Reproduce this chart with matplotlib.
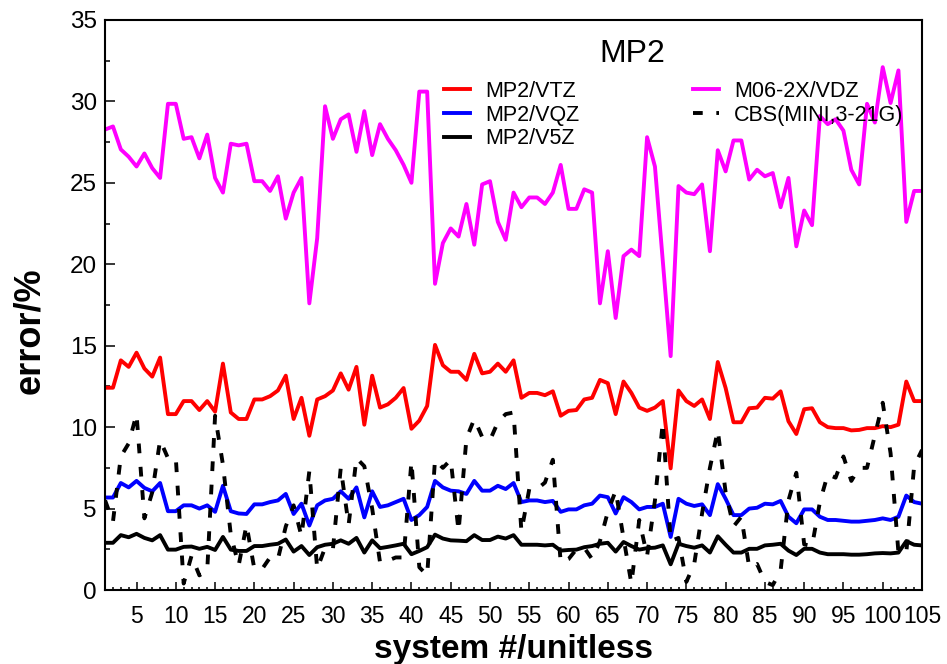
import numpy as np
import matplotlib
matplotlib.use("Agg")
import matplotlib.pyplot as plt
from matplotlib.ticker import MultipleLocator

plt.rcParams["font.family"] = ["Liberation Sans", "DejaVu Sans"]

# system index 1..105
systems = np.arange(1, 106)

mp2_vtz = [
    12.42, 12.42, 14.1, 13.7, 14.57, 13.6, 13.1, 14.27, 10.8, 10.8, 11.6, 11.6, 11.05, 11.6, 10.95, 13.9, 10.9, 10.5, 10.5, 11.7, 11.7, 11.9,
    12.25, 13.16, 10.5, 11.8, 9.47, 11.7, 11.9, 12.25, 13.3, 12.3, 13.7, 10.15, 13.16, 11.2, 11.4, 11.8, 12.4, 9.9, 10.4, 11.3, 15.05,
    13.8, 13.4, 13.4, 12.9, 14.5, 13.3, 13.4, 13.9, 13.4, 14.1, 11.8, 12.1, 12.1, 11.96, 12.2, 10.7, 11.0, 11.05, 11.7, 11.8, 12.9,
    12.7, 10.8, 12.8, 12.1, 11.2, 11.0, 11.2, 11.6, 7.47, 12.25, 11.6, 11.3, 11.7, 10.5, 14.0, 12.4, 10.3, 10.3, 11.16, 11.2, 11.8,
    11.75, 12.2, 10.36, 9.58, 11.1, 11.16, 10.3, 10.0, 9.94, 9.94, 9.8, 9.83, 9.94, 9.94, 10.06, 10.0, 10.15, 12.8, 11.6, 11.6,
]

mp2_vqz = [
    5.68, 5.68, 6.57, 6.3, 6.7, 6.27, 6.06, 6.57, 4.84, 4.84, 5.2, 5.2, 5.0, 5.2, 4.8, 6.4, 4.84, 4.7, 4.67, 5.26, 5.26, 5.4,
    5.5, 5.9, 4.67, 5.3, 3.96, 5.2, 5.5, 5.6, 6.06, 5.6, 6.3, 4.46, 6.06, 5.1, 5.2, 5.4, 5.6, 4.3, 4.6, 5.1, 6.7,
    6.3, 6.1, 6.06, 5.9, 6.7, 6.1, 6.1, 6.4, 6.2, 6.57, 5.4, 5.5, 5.5, 5.4, 5.47, 4.8, 4.95, 4.95, 5.2, 5.3, 5.8,
    5.7, 4.7, 5.7, 5.4, 4.95, 5.1, 5.1, 5.3, 3.26, 5.6, 5.3, 5.16, 5.26, 4.6, 6.5, 5.6, 4.6, 4.6, 5.0, 5.05, 5.3,
    5.26, 5.47, 4.5, 4.1, 4.95, 4.95, 4.5, 4.3, 4.3, 4.25, 4.2, 4.2, 4.25, 4.3, 4.4, 4.3, 4.5, 5.8, 5.4, 5.3,
]

mp2_v5z = [
    2.9, 2.9, 3.37, 3.24, 3.45, 3.2, 3.05, 3.37, 2.48, 2.48, 2.65, 2.67, 2.53, 2.65, 2.46, 3.26, 2.48, 2.4, 2.4, 2.7, 2.7, 2.78,
    2.84, 3.1, 2.36, 2.7, 2.15, 2.63, 2.78, 2.84, 3.05, 2.84, 3.2, 2.3, 3.05, 2.57, 2.65, 2.74, 2.84, 2.2, 2.4, 2.63, 3.4,
    3.16, 3.05, 3.03, 3.0, 3.37, 3.07, 3.07, 3.28, 3.16, 3.37, 2.78, 2.78, 2.78, 2.74, 2.78, 2.42, 2.46, 2.48, 2.63, 2.7, 2.84,
    2.9, 2.36, 2.95, 2.7, 2.48, 2.57, 2.6, 2.74, 1.58, 2.84, 2.7, 2.6, 2.74, 2.3, 3.3, 2.78, 2.3, 2.3, 2.53, 2.53, 2.74,
    2.78, 2.84, 2.42, 2.15, 2.53, 2.53, 2.3, 2.2, 2.2, 2.2, 2.17, 2.17, 2.2, 2.25, 2.27, 2.25, 2.3, 3.0, 2.78, 2.74,
]

m06_vdz = [
    28.27, 28.46, 27.05, 26.6, 26.0, 26.8, 25.9, 25.3, 29.85, 29.85, 27.7, 27.8, 26.5, 27.96, 25.3, 24.4, 27.4, 27.3, 27.4, 25.1, 25.1, 24.5,
    25.4, 22.8, 24.4, 25.3, 17.6, 21.6, 29.7, 27.7, 28.9, 29.2, 26.9, 29.4, 26.7, 28.6, 27.7, 27.0, 26.1, 25.0, 30.6, 30.6, 18.8,
    21.3, 22.2, 21.7, 23.7, 21.2, 24.9, 25.1, 22.6, 21.5, 24.4, 23.5, 24.1, 24.1, 23.7, 24.4, 26.1, 23.4, 23.4, 24.6, 24.4, 17.6,
    20.8, 16.7, 20.5, 20.9, 20.5, 27.8, 26.0, 20.2, 14.36, 24.8, 24.4, 24.3, 24.9, 20.8, 27.0, 25.7, 27.6, 27.6, 25.2, 25.8, 25.4,
    25.6, 23.5, 25.3, 21.1, 23.3, 22.4, 29.1, 28.6, 28.9, 28.2, 25.8, 24.9, 29.85, 28.7, 32.1, 29.9, 31.9, 22.6, 24.5, 24.5,
]

cbs_mini = [
    5.5, 4.2, 8.2, 9.0, 10.8, 4.4, 6.0, 9.2, 8.1, 8.1, 0.4, 2.1, 0.9, 1.2, 10.7, 7.7, 3.4, 1.5, 4.0, 1.3, 1.3, 2.0,
    1.9, 3.9, 5.2, 3.3, 7.3, 1.3, 2.6, 2.5, 7.5, 4.0, 8.1, 7.6, 5.0, 1.7, 1.8, 2.0, 2.0, 7.9, 1.4, 0.9, 8.0,
    7.5, 8.0, 3.6, 9.3, 10.5, 9.4, 9.2, 10.3, 10.8, 10.9, 3.6, 6.2, 6.2, 6.6, 8.0, 1.7, 1.9, 2.5, 2.6, 1.9, 3.0,
    4.8, 6.1, 3.2, 0.4, 4.3, 2.1, 5.5, 10.3, 3.0, 3.2, 0.5, 1.6, 4.7, 7.5, 9.8, 6.0, 3.9, 4.5, 1.4, 1.6, 0.5,
    0.3, 1.2, 5.5, 7.2, 2.8, 2.7, 5.4, 7.1, 6.9, 8.2, 6.7, 7.5, 7.5, 9.5, 11.5, 8.4, 2.3, 2.3, 7.6, 8.6,
]

xtick_vals = list(range(5, 106, 5))

fig = plt.figure(figsize=(9.47, 6.64), dpi=100)
ax = fig.add_axes([0.111, 0.1114, 0.8626, 0.8586])

lw = 2.8
ax.plot(systems, mp2_vtz, color="#ff0000", lw=lw, label="MP2/VTZ")
ax.plot(systems, mp2_vqz, color="#0000ff", lw=lw, label="MP2/VQZ")
ax.plot(systems, mp2_v5z, color="black", lw=lw, label="MP2/V5Z")
ax.plot(systems, m06_vdz, color="#ff00ff", lw=lw, label="M06-2X/VDZ")
ax.plot(systems, cbs_mini, color="black", lw=lw, dashes=(2.5, 3.5), label="CBS(MINI,3-21G)")

ax.set_xlim(1, 105)
ax.set_ylim(0, 35)

ax.set_xticks(xtick_vals)
ax.xaxis.set_minor_locator(MultipleLocator(1))
ax.yaxis.set_major_locator(MultipleLocator(5))
ax.yaxis.set_minor_locator(MultipleLocator(2.5))

ax.tick_params(axis="both", which="both", direction="in", top=False, right=False, width=1.1)
ax.tick_params(axis="y", which="major", length=7.2, labelsize=17.5, pad=6)
ax.tick_params(axis="y", which="minor", length=3.6)
ax.tick_params(axis="x", which="major", length=5.8, labelsize=16.5, pad=11)
ax.tick_params(axis="x", which="minor", length=2.5)

for sp in ax.spines.values():
    sp.set_linewidth(1.5)

ax.set_xlabel("system #/unitless", fontsize=24, fontweight="bold", labelpad=4)
ax.set_ylabel("error/%", fontsize=26, fontweight="bold", va="center")
ax.yaxis.set_label_coords(-0.092, 0.455)

ax.text(0.645, 0.94, "MP2", transform=ax.transAxes, fontsize=23, ha="center", va="center")

ax.legend(loc="upper left", bbox_to_anchor=(0.469, 0.878), bbox_transform=fig.transFigure,
          ncol=2, frameon=False, fontsize=15.5, handlelength=1.2, handletextpad=0.7,
          columnspacing=5.3, labelspacing=0.12, borderaxespad=0, borderpad=0)

fig.savefig("out.png", dpi=100)
